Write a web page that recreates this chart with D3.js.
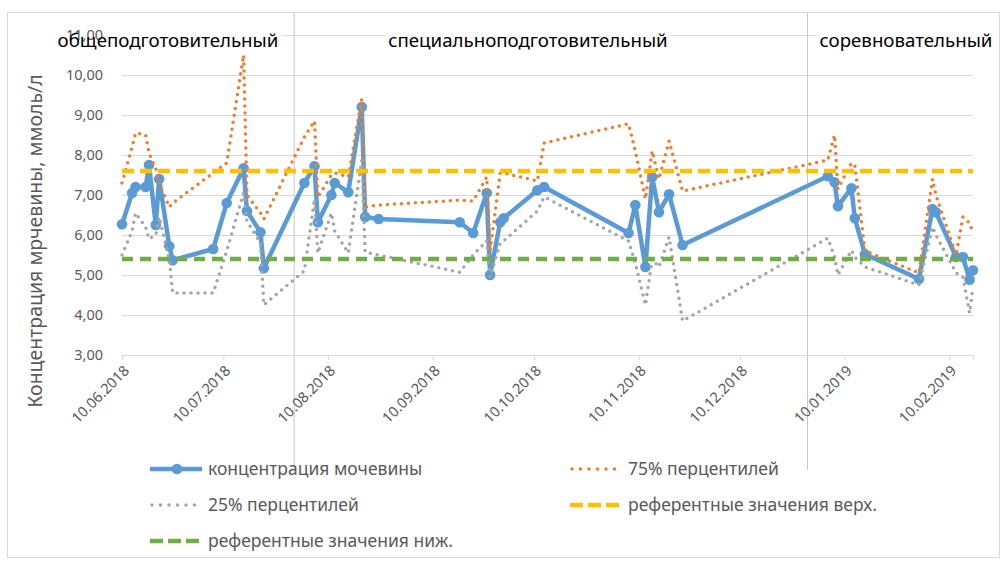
<!DOCTYPE html>
<html>
<head>
<meta charset="utf-8">
<script src="https://cdn.jsdelivr.net/npm/d3@7"></script>
<style>
  body { margin: 0; background: #fff; }
  svg { display: block; font-family: "Noto Sans", sans-serif; }
</style>
</head>
<body>
<svg id="chart" width="1004" height="564"></svg>
<script>
// sampling dates
const dates = [
  "10.06.2018", "13.06.2018", "14.06.2018", "17.06.2018", "18.06.2018", "20.06.2018",
  "21.06.2018", "24.06.2018", "25.06.2018", "07.07.2018", "11.07.2018", "16.07.2018",
  "17.07.2018", "21.07.2018", "22.07.2018", "03.08.2018", "06.08.2018", "07.08.2018",
  "11.08.2018", "12.08.2018", "16.08.2018", "20.08.2018", "21.08.2018", "25.08.2018",
  "18.09.2018", "22.09.2018", "26.09.2018", "27.09.2018", "30.09.2018", "01.10.2018",
  "11.10.2018", "13.10.2018", "07.11.2018", "09.11.2018", "12.11.2018", "14.11.2018",
  "16.11.2018", "19.11.2018", "23.11.2018", "05.01.2019", "07.01.2019", "08.01.2019",
  "12.01.2019", "13.01.2019", "16.01.2019", "01.02.2019", "05.02.2019", "06.02.2019",
  "12.02.2019", "14.02.2019", "16.02.2019", "17.02.2019"
];

const urea = [
  6.27, 7.05, 7.20, 7.20, 7.75, 6.25, 7.40, 5.72, 5.37, 5.65, 6.80, 7.67,
  6.60, 6.07, 5.17, 7.30, 7.72, 6.32, 7.00, 7.30, 7.07, 9.20, 6.45, 6.40,
  6.32, 6.05, 7.05, 5.00, 6.32, 6.42, 7.12, 7.20, 6.05, 6.75, 5.20, 7.45,
  6.57, 7.02, 5.75, 7.47, 7.32, 6.72, 7.17, 6.42, 5.52, 4.90, 6.65, 6.57,
  5.45, 5.45, 4.88, 5.12
];

const p75 = [
  7.30, 8.20, 8.55, 8.50, 8.05, 7.65, 7.30, 6.70, 6.80, 7.55, 7.80, 10.50,
  7.00, 6.55, 6.40, 8.45, 8.85, 6.95, 7.50, 7.55, 7.45, 9.42, 6.70, 6.75,
  6.87, 6.85, 7.45, 5.60, 7.55, 7.55, 7.35, 8.30, 8.78, 8.10, 6.90, 8.10,
  7.40, 8.35, 7.10, 7.87, 8.50, 7.15, 7.80, 7.75, 5.60, 5.05, 7.40, 7.00,
  5.50, 6.45, 6.30, 6.05
];

const p25 = [
  5.50, 6.10, 6.55, 6.20, 5.90, 6.00, 6.45, 5.40, 4.55, 4.55, 5.60, 7.05,
  6.35, 5.80, 4.25, 5.10, 6.90, 5.55, 6.55, 6.10, 5.55, 7.87, 5.57, 5.50,
  5.07, 5.50, 5.85, 4.95, 5.80, 5.85, 6.60, 6.95, 5.85, 5.30, 4.25, 5.40,
  5.20, 5.95, 3.85, 5.92, 5.45, 5.00, 5.62, 5.45, 5.20, 4.75, 6.20, 6.00,
  5.05, 4.95, 4.05, 4.70
];

const refUpper = 7.6;
const refLower = 5.4;

const yTicks = [3, 4, 5, 6, 7, 8, 9, 10, 11];
const xTicks = [
  "10.06.2018", "10.07.2018", "10.08.2018", "10.09.2018", "10.10.2018",
  "10.11.2018", "10.12.2018", "10.01.2019", "10.02.2019"
];
const xDomain = ["10.06.2018", "17.02.2019"];

const phaseNames = ["общеподготовительный", "специальноподготовительный", "соревновательный"];
const phaseBounds = ["31.07.2018", "30.12.2018"];

const legendNames = [
  "концентрация мочевины", "75% перцентилей", "25% перцентилей",
  "референтные значения верх.", "референтные значения ниж."
];

// ---- layout
const parse = d3.timeParse("%d.%m.%Y");
const fmtDate = d3.timeFormat("%d.%m.%Y");
const fmtVal = (d) => d3.format(".2f")(d).replace(".", ",");

const plotLeft = 122, plotRight = 973, plotTop = 35, plotBottom = 355;
const phaseLabelX = [168, 528, 906];

const colors = {
  urea: "#5B9BD5", p75: "#ED7D31", p25: "#A5A5A5",
  upper: "#FFC000", lower: "#70AD47", grid: "#D9D9D9", text: "#595959"
};

const rows = dates.map((d, i) => ({ date: parse(d), urea: urea[i], p75: p75[i], p25: p25[i] }));

const x = d3.scaleTime().domain(xDomain.map(parse)).range([plotLeft, plotRight]);
const y = d3.scaleLinear().domain([3, 11]).range([plotBottom, plotTop]);

const svg = d3.select("#chart");

svg.append("rect")
  .attr("x", 7.5).attr("y", 12.5).attr("width", 992).attr("height", 545)
  .attr("fill", "#fff").attr("stroke", colors.grid);

// grid lines
svg.append("g")
  .attr("transform", `translate(${plotLeft}, 0)`)
  .call(d3.axisRight(y).tickValues(yTicks).tickSize(plotRight - plotLeft).tickFormat(""))
  .call((g) => {
    g.select(".domain").remove();
    g.selectAll(".tick line").attr("stroke", colors.grid);
  });

// phase separators
svg.append("g")
  .selectAll("line")
  .data(phaseBounds.map(parse))
  .join("line")
  .attr("x1", (d) => x(d)).attr("x2", (d) => x(d))
  .attr("y1", 13).attr("y2", 470)
  .attr("stroke", "#C8C8C8").attr("stroke-width", 1);

// x axis
svg.append("g")
  .attr("transform", `translate(0, ${plotBottom})`)
  .call(d3.axisBottom(x).tickValues(xTicks.map(parse)).tickSize(5).tickFormat(fmtDate))
  .call((g) => {
    g.select(".domain").attr("stroke", colors.grid);
    g.selectAll(".tick line").attr("stroke", colors.grid);
    g.selectAll(".tick text")
      .attr("fill", colors.text)
      .style("font-family", "'Noto Sans', sans-serif")
      .style("font-size", "14.5px")
      .attr("text-anchor", "end")
      .attr("y", 0).attr("dy", "0.35em")
      .attr("transform", "translate(4, 13) rotate(-45)");
  });

// y title
svg.append("text")
  .attr("transform", `translate(35, 241) rotate(-90)`)
  .attr("text-anchor", "middle")
  .attr("dy", "0.35em")
  .attr("fill", colors.text)
  .style("font-size", "19.5px")
  .text("Концентрация мрчевины, ммоль/л");

// series
const line = (key) => d3.line().x((d) => x(d.date)).y((d) => y(d[key]));

svg.append("path")
  .datum(rows)
  .attr("d", line("urea"))
  .attr("fill", "none")
  .attr("stroke", colors.urea)
  .attr("stroke-width", 4.5)
  .attr("stroke-linejoin", "round");

svg.append("g")
  .selectAll("circle")
  .data(rows)
  .join("circle")
  .attr("cx", (d) => x(d.date))
  .attr("cy", (d) => y(d.urea))
  .attr("r", 5.3)
  .attr("fill", colors.urea);

const dotted = (key, color) =>
  svg.append("path")
    .datum(rows)
    .attr("d", line(key))
    .attr("fill", "none")
    .attr("stroke", color)
    .attr("stroke-width", 3.5)
    .attr("stroke-linecap", "round")
    .attr("stroke-linejoin", "round")
    .attr("stroke-dasharray", "0 7");

dotted("p75", colors.p75);
dotted("p25", colors.p25);

const refLine = (value, color, dash) =>
  svg.append("line")
    .attr("x1", x(x.domain()[0])).attr("x2", x(x.domain()[1]))
    .attr("y1", y(value)).attr("y2", y(value))
    .attr("stroke", color)
    .attr("stroke-width", 4.5)
    .attr("stroke-dasharray", dash);

refLine(refUpper, colors.upper, "12 6");
refLine(refLower, colors.lower, "11 7");

// phase labels: white boxes first, then the y labels, then the label text
const phases = svg.append("g")
  .selectAll("text")
  .data(phaseNames)
  .join("text")
  .attr("x", (d, i) => phaseLabelX[i])
  .attr("y", 40)
  .attr("text-anchor", "middle")
  .attr("dy", "0.35em")
  .attr("fill", "#000")
  .style("font-size", "18.7px")
  .text((d) => d);

const boxes = svg.insert("g", () => phases.node().parentNode);
phases.each(function () {
  const b = this.getBBox();
  boxes.append("rect")
    .attr("x", b.x - 3).attr("y", b.y + 3)
    .attr("width", b.width + 6).attr("height", b.height - 6)
    .attr("fill", "#fff");
});

// y axis labels
svg.insert("g", () => phases.node().parentNode)
  .attr("transform", `translate(${plotLeft}, 0)`)
  .call(d3.axisLeft(y).tickValues(yTicks).tickSize(0).tickPadding(19).tickFormat(fmtVal))
  .call((g) => {
    g.select(".domain").remove();
    g.selectAll("text")
      .attr("fill", colors.text)
      .style("font-family", "'Noto Sans', sans-serif")
      .style("font-size", "14.5px");
  });

// legend
const legendPos = [[150, 469], [570, 469], [150, 505], [570, 505], [150, 541]];
const legendStyle = [
  { color: colors.urea, dash: null, marker: true },
  { color: colors.p75, dash: "0 8.5", round: true },
  { color: colors.p25, dash: "0 8.5", round: true },
  { color: colors.upper, dash: "13 5" },
  { color: colors.lower, dash: "13 5" }
];

const legend = svg.append("g")
  .selectAll("g")
  .data(legendNames)
  .join("g")
  .attr("transform", (d, i) => `translate(${legendPos[i][0]}, ${legendPos[i][1]})`);

legend.append("line")
  .attr("x1", (d, i) => (legendStyle[i].round ? 2 : 0))
  .attr("x2", 52)
  .attr("stroke", (d, i) => legendStyle[i].color)
  .attr("stroke-width", (d, i) => (legendStyle[i].round ? 3.5 : 4.5))
  .attr("stroke-linecap", (d, i) => (legendStyle[i].round ? "round" : "butt"))
  .attr("stroke-dasharray", (d, i) => legendStyle[i].dash);

legend.filter((d, i) => legendStyle[i].marker)
  .append("circle")
  .attr("cx", 27).attr("r", 5.3)
  .attr("fill", colors.urea);

legend.append("text")
  .attr("x", 58)
  .attr("dy", "0.35em")
  .attr("fill", colors.text)
  .style("font-size", "17.5px")
  .text((d) => d);
</script>
</body>
</html>
